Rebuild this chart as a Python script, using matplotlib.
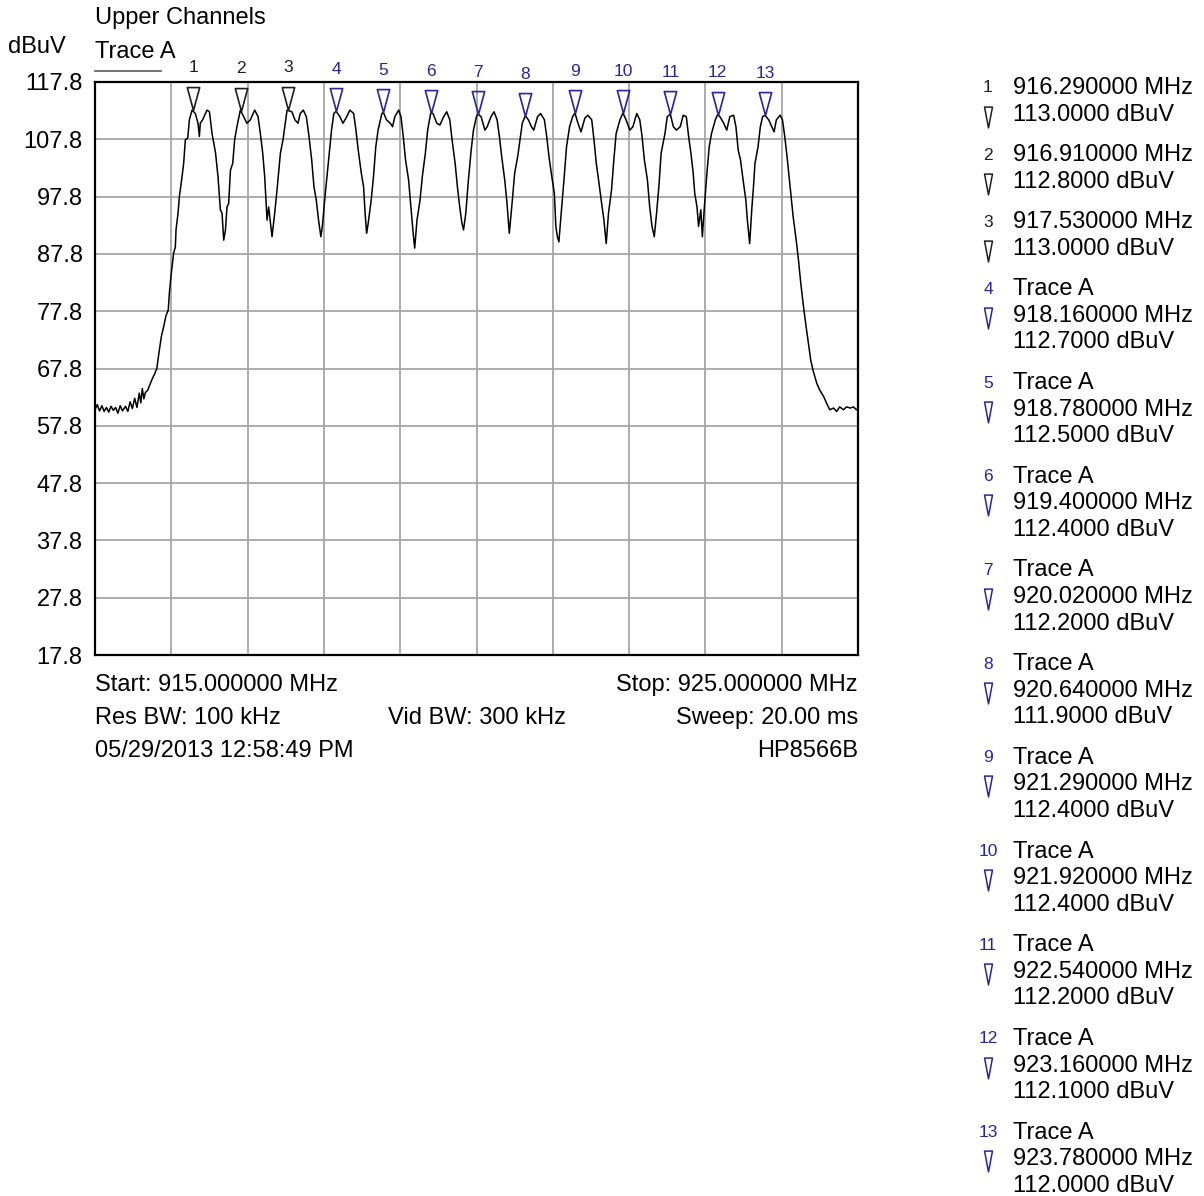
import matplotlib.pyplot as plt
from matplotlib.path import Path

# HP8566B sweep, 915-925 MHz, reference level 117.8 dBuV, 10 dB/div
start_mhz = 915.0
stop_mhz = 925.0
level_ticks = [117.8, 107.8, 97.8, 87.8, 77.8, 67.8, 57.8, 47.8, 37.8, 27.8, 17.8]

trace_mhz = [
    915.00, 915.03, 915.06, 915.09, 915.12, 915.15, 915.18, 915.21, 915.24, 915.27,
    915.30, 915.33, 915.36, 915.40, 915.43, 915.46, 915.49, 915.52, 915.55, 915.58,
    915.60, 915.62, 915.64, 915.66, 915.69, 915.72, 915.75, 915.78, 915.81, 915.84,
    915.87, 915.90, 915.93, 915.96, 915.975, 915.995, 916.01, 916.03, 916.053, 916.062,
    916.088, 916.106, 916.123, 916.141, 916.162, 916.184, 916.215, 916.237, 916.272, 916.315,
    916.35, 916.368, 916.38, 916.41, 916.468, 916.50, 916.534, 916.58, 916.612, 916.643,
    916.665, 916.687, 916.71, 916.73, 916.752, 916.775, 916.805, 916.83, 916.86, 916.905,
    916.949, 916.99, 917.036, 917.093, 917.137, 917.167, 917.198, 917.224, 917.255, 917.276,
    917.32, 917.355, 917.386, 917.43, 917.464, 917.517, 917.58, 917.62, 917.66, 917.69,
    917.73, 917.77, 917.80, 917.84, 917.87, 917.90, 917.93, 917.96, 917.98, 918.01,
    918.04, 918.07, 918.10, 918.13, 918.16, 918.21, 918.25, 918.30, 918.34, 918.39,
    918.42, 918.45, 918.49, 918.52, 918.54, 918.56, 918.58, 918.62, 918.65, 918.68,
    918.71, 918.76, 918.78, 918.82, 918.87, 918.90, 918.93, 918.98, 919.01, 919.04,
    919.07, 919.11, 919.14, 919.17, 919.19, 919.22, 919.26, 919.29, 919.33, 919.36,
    919.40, 919.43, 919.48, 919.52, 919.57, 919.61, 919.65, 919.68, 919.72, 919.75,
    919.78, 919.81, 919.83, 919.86, 919.89, 919.93, 919.96, 920.00, 920.02, 920.06,
    920.11, 920.14, 920.19, 920.23, 920.27, 920.30, 920.33, 920.37, 920.40, 920.43,
    920.47, 920.50, 920.54, 920.57, 920.60, 920.64, 920.68, 920.72, 920.75, 920.80,
    920.84, 920.89, 920.92, 920.95, 920.98, 921.02, 921.04, 921.06, 921.08, 921.11,
    921.15, 921.18, 921.22, 921.26, 921.29, 921.33, 921.37, 921.42, 921.46, 921.51,
    921.54, 921.57, 921.60, 921.64, 921.67, 921.70, 921.73, 921.77, 921.80, 921.83,
    921.88, 921.92, 921.96, 922.01, 922.05, 922.10, 922.14, 922.17, 922.20, 922.24,
    922.27, 922.30, 922.33, 922.36, 922.39, 922.42, 922.47, 922.50, 922.54, 922.58,
    922.62, 922.67, 922.71, 922.75, 922.78, 922.81, 922.84, 922.86, 922.89, 922.91,
    922.94, 922.96, 922.99, 923.02, 923.05, 923.08, 923.13, 923.16, 923.19, 923.24,
    923.28, 923.32, 923.37, 923.40, 923.43, 923.46, 923.50, 923.53, 923.55, 923.58,
    923.61, 923.63, 923.65, 923.69, 923.72, 923.75, 923.78, 923.83, 923.87, 923.90,
    923.93, 923.98, 924.01, 924.04, 924.07, 924.11, 924.15, 924.19, 924.22, 924.25,
    924.28, 924.32, 924.35, 924.38, 924.41, 924.46, 924.50, 924.55, 924.59, 924.63,
    924.68, 924.72, 924.76, 924.81, 924.85, 924.90, 924.94, 924.98, 925.00,
]
trace_dbuv = [
    60.6, 61.5, 60.4, 61.3, 60.3, 61.0, 60.2, 61.2, 60.5, 61.0,
    60.0, 61.3, 60.4, 61.2, 60.3, 62.0, 60.8, 62.6, 61.0, 63.5,
    61.8, 64.3, 62.5, 63.6, 64.0, 65.0, 66.0, 66.8, 67.8, 70.7,
    73.4, 75.1, 77.0, 78.0, 81.0, 83.8, 85.6, 87.9, 89.0, 92.0,
    94.9, 97.8, 99.5, 101.3, 103.6, 107.7, 108.0, 111.2, 112.9, 112.3,
    110.6, 108.3, 110.6, 111.2, 112.9, 112.6, 108.8, 105.4, 101.3, 95.5,
    94.9, 90.2, 92.0, 96.0, 96.6, 102.4, 103.6, 107.7, 110.0, 112.9,
    111.75, 110.6, 111.2, 112.9, 111.75, 108.8, 105.4, 101.3, 93.7, 96.0,
    90.8, 94.9, 99.0, 105.4, 107.7, 112.9, 112.6, 111.2, 110.6, 112.3,
    112.9, 111.75, 108.8, 104.2, 99.5, 97.2, 93.7, 90.8, 92.6, 97.2,
    101.3, 105.4, 109.4, 112.3, 112.7, 111.75, 110.6, 111.75, 112.9, 112.3,
    109.4, 105.9, 101.9, 99.5, 94.9, 91.4, 93.1, 97.2, 101.3, 106.5,
    109.4, 112.3, 112.5, 111.2, 110.6, 110.0, 111.75, 112.9, 111.75, 108.3,
    104.2, 100.7, 96.0, 91.4, 88.8, 93.7, 97.2, 101.3, 105.4, 109.4,
    112.4, 112.3, 110.6, 110.3, 111.75, 112.6, 111.2, 107.7, 103.6, 99.5,
    96.0, 93.1, 92.0, 94.9, 100.1, 105.9, 109.4, 111.8, 112.2, 111.75,
    109.4, 110.0, 111.75, 112.6, 111.2, 108.3, 104.8, 100.7, 96.6, 91.4,
    97.2, 101.9, 104.8, 107.7, 110.6, 111.9, 111.2, 110.0, 109.4, 111.75,
    112.3, 111.2, 108.3, 104.8, 101.9, 98.4, 92.6, 90.8, 89.9, 94.9,
    101.3, 106.5, 110.0, 111.75, 112.4, 110.6, 109.1, 111.5, 112.0, 111.2,
    107.7, 103.6, 100.7, 96.6, 93.7, 89.6, 94.9, 99.0, 104.2, 108.8,
    111.2, 112.4, 111.2, 109.4, 110.0, 112.3, 111.2, 108.3, 104.2, 100.7,
    96.0, 92.6, 90.8, 94.9, 99.5, 105.4, 108.8, 111.75, 112.2, 110.0,
    109.4, 110.0, 112.0, 111.75, 108.3, 105.4, 101.9, 98.4, 96.0, 92.6,
    95.5, 90.8, 96.6, 101.9, 106.5, 108.8, 111.2, 112.1, 111.75, 110.6,
    109.4, 111.75, 112.0, 110.0, 105.9, 104.2, 100.1, 97.2, 93.7, 89.6,
    96.0, 99.5, 103.6, 106.5, 110.0, 111.75, 112.0, 111.2, 110.0, 109.1,
    111.2, 112.0, 111.2, 108.3, 104.8, 99.5, 94.3, 90.2, 86.7, 82.7,
    79.2, 75.1, 72.2, 69.3, 67.5, 65.2, 64.0, 62.9, 61.7, 60.6,
    60.9, 60.3, 61.1, 60.6, 61.1, 60.9, 61.1, 60.6, 60.8,
]

# marker table
marker_ids = [1, 2, 3, 4, 5, 6, 7, 8, 9, 10, 11, 12, 13]
marker_mhz = [916.29, 916.91, 917.53, 918.16, 918.78, 919.40, 920.02,
              920.64, 921.29, 921.92, 922.54, 923.16, 923.78]
marker_dbuv = [113.0, 112.8, 113.0, 112.7, 112.5, 112.4, 112.2,
               111.9, 112.4, 112.4, 112.2, 112.1, 112.0]
marker_has_trace = [False, False, False] + [True] * 10

W, H = 1204, 1196
BLACK_MK = "#1e1e1e"
BLUE_MK = "#26269a"
GRID = "#a6a6a6"
SANS = ["Liberation Sans", "DejaVu Sans"]
NARROW = ["Liberation Sans Narrow", "Liberation Sans", "DejaVu Sans"]
FS = 17

plt.rcParams["font.family"] = SANS

fig = plt.figure(figsize=(W / 100, H / 100), dpi=100)

# plot frame in pixels: x 95..858, y 82..655
left, right, top, bottom = 95, 858, 82, 655
ax = fig.add_axes([left / W, 1 - bottom / H, (right - left) / W, (bottom - top) / H])
ax.set_xlim(start_mhz, stop_mhz)
ax.set_ylim(level_ticks[-1], level_ticks[0])
ax.set_xticks([start_mhz + i for i in range(11)])
ax.set_yticks(level_ticks)
ax.set_yticklabels([f"{v:.1f}" for v in level_ticks], fontsize=FS)
ax.tick_params(axis="x", length=0, labelbottom=False)
ax.tick_params(axis="y", length=0, pad=9)
ax.grid(True, color=GRID, lw=1.3)
ax.set_axisbelow(True)
for sp in ax.spines.values():
    sp.set_linewidth(1.6)
    sp.set_color("black")

ax.plot(trace_mhz, trace_dbuv, color="black", lw=1.1, zorder=3)

# down-pointing triangle with its tip at the marker level
tip_down = Path([(0, 0), (-0.27, 1), (0.27, 1), (0, 0)],
                [Path.MOVETO, Path.LINETO, Path.LINETO, Path.CLOSEPOLY])
for mid, f, v in zip(marker_ids, marker_mhz, marker_dbuv):
    col = BLACK_MK if mid <= 3 else BLUE_MK
    ax.plot([f], [v], ls="none", marker=tip_down, ms=33, mfc="none",
            mec=col, mew=1.2, zorder=4, clip_on=False)
    ax.annotate(str(mid), (f, v), xytext=(0, 30), textcoords="offset points",
                ha="center", va="center", fontsize=12.5, color=col,
                family=NARROW, annotation_clip=False)

# overlay in pixel coordinates for header, footer and marker list
lay = fig.add_axes([0, 0, 1, 1], facecolor="none")
lay.set_xlim(0, W)
lay.set_ylim(H, 0)
lay.axis("off")

lay.text(95, 18, "Upper Channels", fontsize=FS, va="center")
lay.text(8, 47, "dBuV", fontsize=FS, va="center")
lay.text(95, 52, "Trace A", fontsize=FS, va="center")
lay.plot([95, 161], [70.5, 70.5], color="#666666", lw=1.3)

lay.text(95, 685, "Start: 915.000000 MHz", fontsize=FS, va="center")
lay.text(858, 685, "Stop: 925.000000 MHz", fontsize=FS, va="center", ha="right")
lay.text(95, 718, "Res BW: 100 kHz", fontsize=FS, va="center")
lay.text(476.5, 718, "Vid BW: 300 kHz", fontsize=FS, va="center", ha="center")
lay.text(858, 718, "Sweep: 20.00 ms", fontsize=FS, va="center", ha="right")
lay.text(95, 751, "05/29/2013 12:58:49 PM", fontsize=FS, va="center")
lay.text(858, 751, "HP8566B", fontsize=FS, va="center", ha="right")

# marker readout list
legend_tri = Path([(-0.19, 0.5), (0.19, 0.5), (0, -0.5), (-0.19, 0.5)],
                  [Path.MOVETO, Path.LINETO, Path.LINETO, Path.CLOSEPOLY])
line_h = 26.6
gap = 13.9
y = 88.0
for mid, f, v, tr in zip(marker_ids, marker_mhz, marker_dbuv, marker_has_trace):
    col = BLACK_MK if mid <= 3 else BLUE_MK
    lines = (["Trace A"] if tr else []) + [f"{f:.6f} MHz", f"{v:.4f} dBuV"]
    lay.text(988, y, str(mid), fontsize=12.5, color=col, family=NARROW,
             ha="center", va="center")
    for k, s in enumerate(lines):
        lay.text(1013, y + k * line_h, s, fontsize=FS, va="center")
    lay.plot([988], [y + line_h + 2], ls="none", marker=legend_tri, ms=15,
             mfc="none", mec=col, mew=1.1)
    y += len(lines) * line_h + gap

fig.savefig("out.png", dpi=100)
